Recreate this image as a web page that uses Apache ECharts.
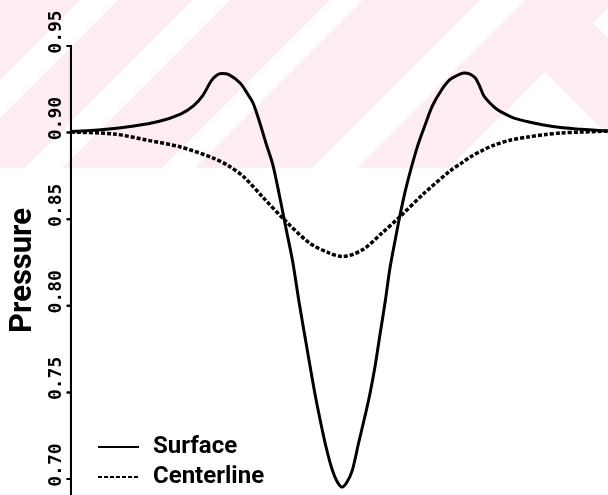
<!DOCTYPE html>
<html>
<head>
<meta charset="utf-8">
<script src="https://cdn.jsdelivr.net/npm/echarts@6/dist/echarts.min.js"></script>
<style>
  html, body { margin: 0; padding: 0; background: #ffffff; }
  #chart { width: 608px; height: 495px; }
</style>
</head>
<body>
<div id="chart"></div>
<script>
// Axial position along the channel (constriction at 5.05) and pressure
const surfaceX = [0, 0.61, 1.17, 1.63, 2.04, 2.28, 2.46, 2.61, 2.72, 2.81, 2.94, 3.15,
  3.29, 3.39, 3.50, 3.63, 3.76, 3.88, 4.01, 4.13, 4.25, 4.40, 4.53, 4.64, 4.75, 4.86, 4.96, 5.05,
  5.14, 5.24, 5.36, 5.48, 5.57, 5.66, 5.75, 5.85, 5.94, 6.03, 6.12, 6.23, 6.34, 6.46, 6.58, 6.73,
  6.90, 7.05, 7.21, 7.32, 7.43, 7.53, 7.60, 7.69, 7.82, 7.95, 8.10, 8.25, 8.53, 8.80, 9.12, 9.43, 9.71, 10.0];
const surfaceP = [0.9006, 0.9018, 0.9038, 0.9064, 0.9107, 0.9154, 0.9217, 0.9298, 0.9333, 0.9341, 0.9335, 0.9286,
  0.9223, 0.9171, 0.9073, 0.8940, 0.8813, 0.8640, 0.8438, 0.8253, 0.8016, 0.7745, 0.7514, 0.7341, 0.7185, 0.7058, 0.6983, 0.6954,
  0.6983, 0.7052, 0.7214, 0.7370, 0.7497, 0.7647, 0.7826, 0.8022, 0.8218, 0.8368, 0.8513, 0.8669, 0.8801, 0.8928, 0.9032, 0.9154,
  0.9246, 0.9304, 0.9333, 0.9344, 0.9338, 0.9315, 0.9275, 0.9211, 0.9165, 0.9130, 0.9105, 0.9084, 0.9061, 0.9044, 0.9029, 0.9021, 0.9015, 0.9009];

const centerX = [0, 0.80, 1.41, 2.04, 2.65, 2.94, 3.22, 3.57, 3.98, 4.44, 4.81, 5.05,
  5.42, 5.79, 6.12, 6.58, 7.08, 7.27, 7.45, 7.64, 7.88, 8.19, 8.51, 8.84, 9.12, 9.49, 9.99];
const centerP = [0.9003, 0.8992, 0.8957, 0.8917, 0.8853, 0.8807, 0.8744, 0.8628, 0.8495, 0.8363, 0.8305, 0.8285,
  0.8322, 0.8420, 0.8513, 0.8651, 0.8784, 0.8824, 0.8862, 0.8894, 0.8928, 0.8957, 0.8975, 0.8989, 0.8998, 0.9003, 0.9009];

const seriesNames = ['Surface', 'Centerline'];
const pressureTicks = [0.70, 0.75, 0.80, 0.85, 0.90, 0.95];
const axisTitle = 'Pressure';
const P_MIN = 0.6908;

const pairs = (xs, ys) => xs.map((x, i) => [x, ys[i]]);

// Vertical axis spine at x = 0 with short outward ticks, as one polyline
const TICK_X = -0.08;
const spinePath = [[0, P_MIN]];
pressureTicks.forEach(v => { spinePath.push([0, v], [TICK_X, v], [0, v]); });

// Pale diagonal banding across the top of the figure
const BAND_H = 168;
const PINK = '#fdedf0';
function stripe(a, b) {
  return { type: 'polygon', z: -10, silent: true,
    shape: { points: [[a, 0], [b, 0], [b - BAND_H, BAND_H], [a - BAND_H, BAND_H]] },
    style: { fill: '#ffffff' } };
}
const bandGraphics = [
  { type: 'rect', z: -20, silent: true, shape: { x: 0, y: 0, width: 608, height: BAND_H }, style: { fill: PINK } },
  stripe(80, 118), stripe(193, 230), stripe(330, 363), stripe(480, 525),
  { type: 'polygon', z: -10, silent: true,
    shape: { points: [[545, 72], [641, BAND_H], [449, BAND_H]] }, style: { fill: '#ffffff' } },
  { type: 'polygon', z: -10, silent: true,
    shape: { points: [[593, 23], [616, 0], [616, 46]] }, style: { fill: '#ffffff' } }
];

const chart = echarts.init(document.getElementById('chart'), null, { renderer: 'canvas' });
chart.setOption({
  animation: false,
  backgroundColor: '#ffffff',
  graphic: bandGraphics,
  grid: { left: 61.6, right: 0, top: 46, bottom: 0, containLabel: false },
  xAxis: { type: 'value', min: -0.1, max: 10, show: false },
  yAxis: {
    type: 'value',
    min: P_MIN,
    max: 0.95,
    name: axisTitle,
    nameLocation: 'middle',
    nameGap: 26.6,
    nameRotate: 90,
    nameTextStyle: { fontFamily: 'Roboto', fontWeight: 'bold', fontSize: 31, color: '#000' },
    axisLine: { show: false },
    axisTick: { show: false },
    splitLine: { show: false },
    axisLabel: {
      customValues: pressureTicks,
      rotate: 90,
      margin: 0,
      padding: [0, 0, 0, 28],
      formatter: v => v.toFixed(2),
      fontFamily: 'DejaVu Sans Mono',
      fontWeight: 'bold',
      fontSize: 18,
      color: '#000'
    }
  },
  legend: {
    orient: 'vertical',
    left: 97,
    top: 435,
    padding: 0,
    itemWidth: 41,
    itemHeight: 14,
    itemGap: 6,
    itemStyle: { opacity: 0 },
    data: seriesNames,
    textStyle: { fontFamily: 'Roboto', fontWeight: 'bold', fontSize: 24, lineHeight: 24, color: '#000', padding: [0, 0, 0, 9] }
  },
  series: [
    {
      name: seriesNames[0], type: 'line', data: pairs(surfaceX, surfaceP),
      smooth: 0.3, symbol: 'none', silent: true,
      lineStyle: { color: '#000', width: 3 }, itemStyle: { color: '#000' }
    },
    {
      name: seriesNames[1], type: 'line', data: pairs(centerX, centerP),
      smooth: 0.3, symbol: 'none', silent: true,
      lineStyle: { color: '#000', width: 3.5, type: [4, 2] }, itemStyle: { color: '#000' }
    },
    {
      name: 'axis', type: 'line', data: spinePath, zlevel: 1, z: 50, clip: false,
      symbol: 'none', silent: true, smooth: false,
      lineStyle: { color: '#000', width: 2 }
    }
  ]
});

// Spine overlay on its own layer, placed through the axis scales
const spinePx = spinePath.map(p => chart.convertToPixel({ gridIndex: 0 }, p));
chart.setOption({
  graphic: [...bandGraphics, {
    type: 'polyline', zlevel: 2, silent: true,
    shape: { points: spinePx },
    style: { stroke: '#000', lineWidth: 2, fill: null }
  }]
});
</script>
</body>
</html>
